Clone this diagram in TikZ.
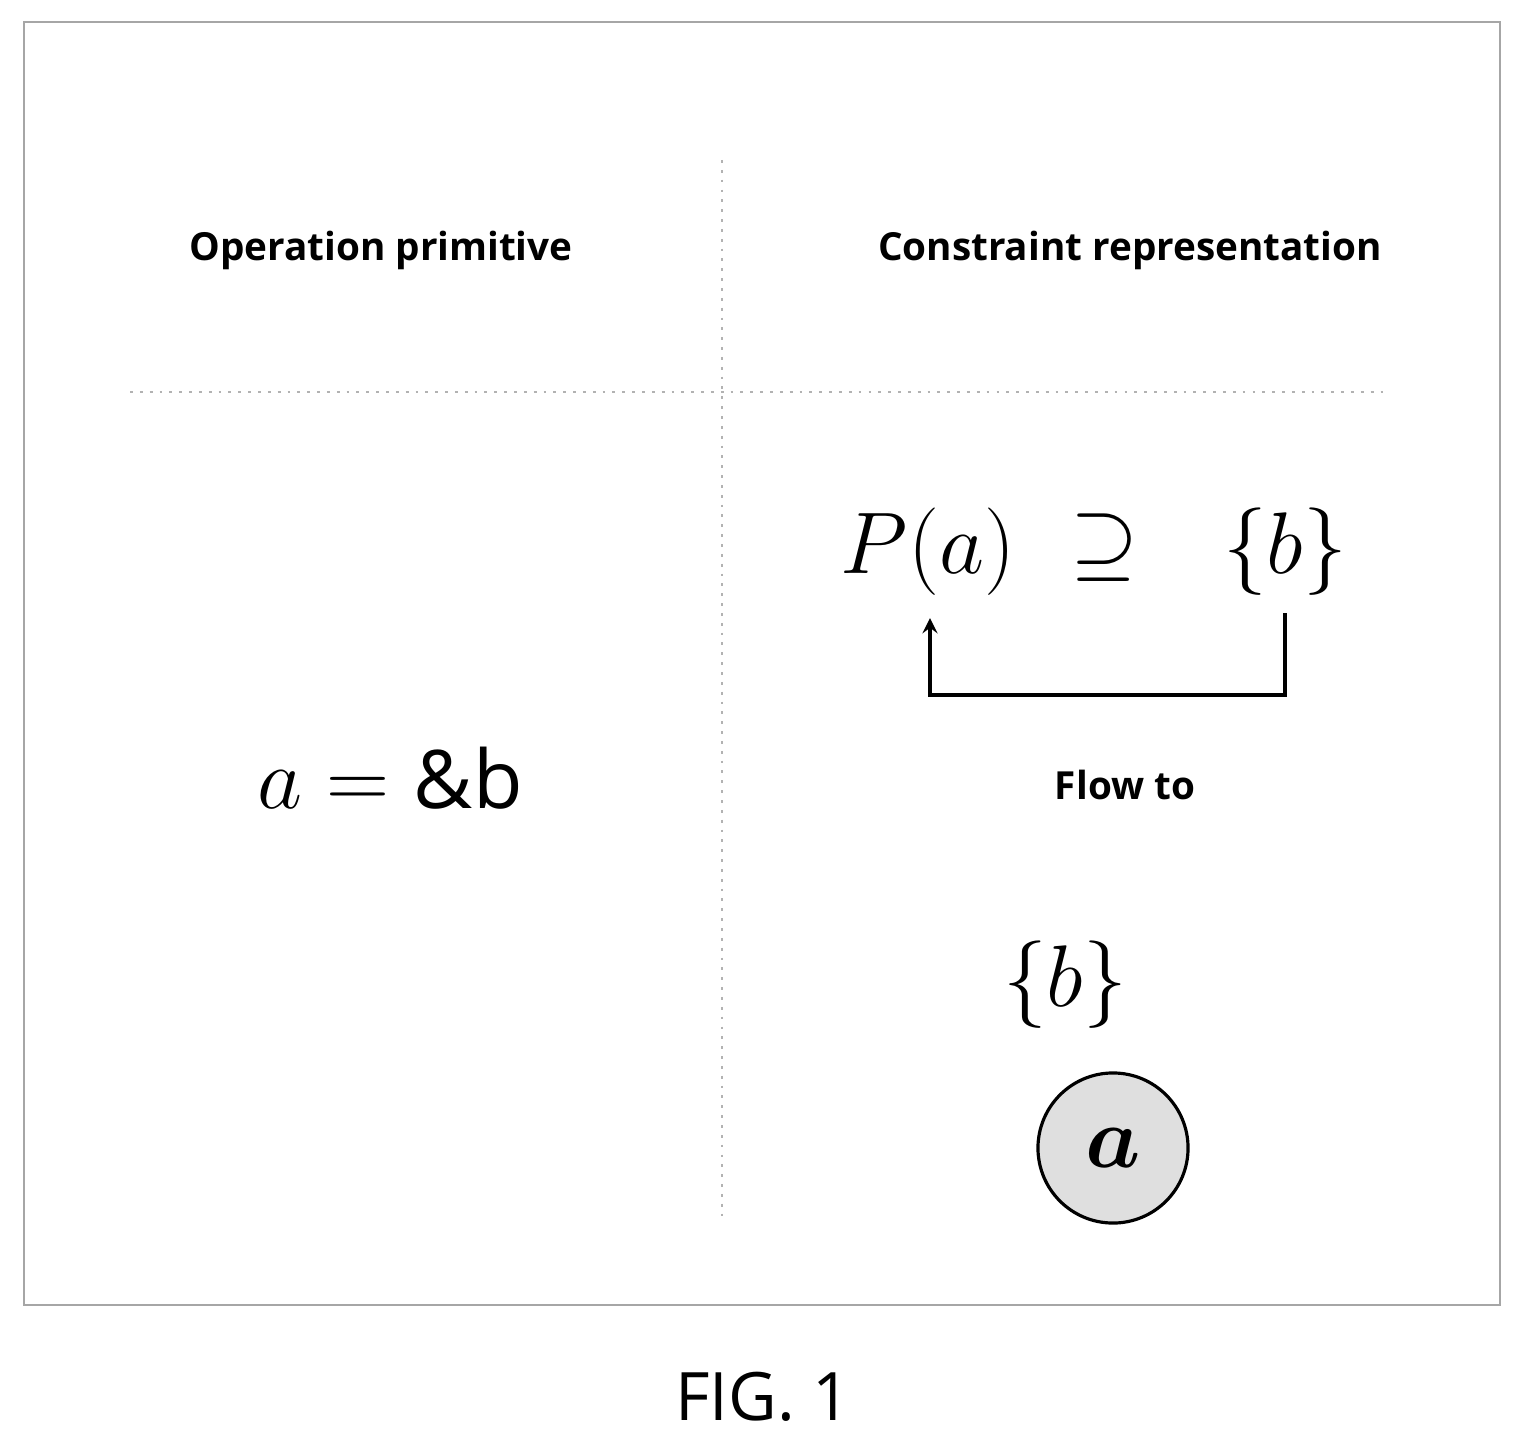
\documentclass[tikz,border=0pt]{standalone}
\usepackage{amsmath}
\usepackage{fontspec}
\setmainfont{Open Sans}
\usetikzlibrary{positioning}
\tikzset{
  head/.style = {font=\fontsize{11}{13}\selectfont\bfseries},
  formula/.style = {font=\fontsize{23}{27}\selectfont},
  flow/.style = {line width=0.9pt, ->, >=stealth}
}
\begin{document}
\begin{tikzpicture}[x=0.01cm, y=-0.01cm]
        \useasboundingbox (0, 0) rectangle (1522, 1437);
        \draw [gray!70, line width=0.6pt] (24, 22) rectangle (1500, 1305);
        \draw [gray!60, dotted, line width=0.8pt] (722, 160) -- (722, 1220);
        \draw [gray!60, dotted, line width=0.8pt] (130, 392) -- (1390, 392);
        \node [head] (op) at (381, 250) {Operation primitive};
        \node [head] (cons) at (1130, 250) {Constraint representation};
        \node [formula] (prim) at (390, 778) {$a = \&$b};
        \node [formula] (pa) at (928, 552) {$P(a)$};
        \node [formula] (sup) at (1105, 548) {$\supseteq$};
        \node [formula] (pb) at (1285, 552) {$\{b\}$};
        \coordinate (cr) at (1285, 695);
        \coordinate (cl) at (930, 695);
        \draw [flow] (pb.south) ++(0, 5) -- (cr) -- (cl) -- ([yshift=-0.1cm]pa.south -| cl);
        \node [head] (flowto) at (1125, 785) {Flow to};
        \node [formula] (set) at (1065, 985) {$\{b\}$};
        \node [circle, draw, line width=0.9pt, fill=gray!25, minimum size=1.5cm,
               font=\fontsize{23}{27}\selectfont] (va) at (1113, 1148) {$\boldsymbol{a}$};
        \node [font=\fontsize{19}{23}\selectfont] (fig) at (763, 1397) {FIG. 1};
    \end{tikzpicture}
\end{document}
